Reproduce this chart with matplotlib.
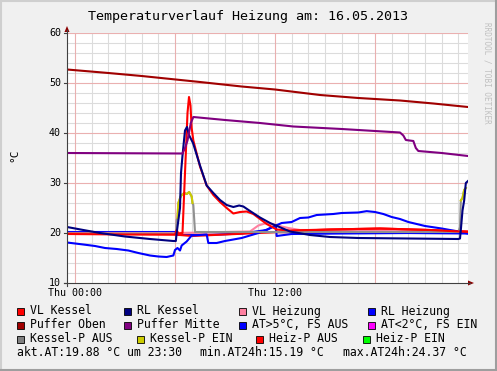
import matplotlib
matplotlib.use('Agg')
import matplotlib.pyplot as plt
from matplotlib.patches import Rectangle, Polygon
from matplotlib.lines import Line2D

# ---------------- data (hours after Thu 00:00) ----------------
title = "Temperaturverlauf Heizung am: 16.05.2013"
x_tick_hours = [0, 12]
x_tick_labels = ["Thu 00:00", "Thu 12:00"]
y_ticks = [10, 20, 30, 40, 50, 60]

puffer_oben_t = [-0.48, 2, 4, 7.5, 10, 12, 14.7, 17, 19.5, 21.5, 23.58]
puffer_oben_v = [52.7, 52.0, 51.4, 50.2, 49.3, 48.7, 47.6, 47.0, 46.5, 45.9, 45.2]

puffer_mitte_t = [-0.48, 6.45, 6.6, 6.75, 6.95, 7.1, 9, 11.1, 13.1, 16, 19.5, 19.7, 19.85, 20.3, 20.45, 20.6, 22, 23.58]
puffer_mitte_v = [36.0, 35.9, 37.0, 38.5, 42.0, 43.2, 42.6, 42.0, 41.3, 40.8, 40.1, 39.5, 38.6, 38.4, 37.0, 36.4, 36.0, 35.4]

vl_kessel_t = [-0.48, 3, 6.0, 6.1, 6.2, 6.45, 6.6, 6.75, 6.84, 6.93, 7.0, 7.1, 7.5, 7.9, 8.3, 8.7, 9.1, 9.5,
               9.9, 10.3, 10.7, 11.1, 11.5, 12.1, 12.9, 15.3, 18.3, 21.3, 23.1, 23.58]
vl_kessel_v = [19.8, 19.7, 19.7, 20.6, 19.9, 20.0, 32.0, 44.0, 47.2, 45.5, 41.0, 38.5, 33.3, 29.5, 27.6, 26.2,
               25.0, 23.9, 24.2, 24.3, 23.8, 22.8, 21.8, 20.7, 20.5, 20.7, 20.9, 20.6, 20.3, 20.2]

rl_kessel_t = [-0.48, 0.5, 1.5, 3.0, 4.5, 5.9, 6.05, 6.1, 6.3, 6.36, 6.45, 6.6, 6.72, 6.84, 7.08, 7.5, 7.9, 8.3,
               8.7, 9.1, 9.5, 9.85, 10.1, 10.5, 11.1, 11.7, 12.9, 14.1, 15.3, 17.0, 20.0, 23.0, 23.1, 23.16,
               23.25, 23.35, 23.45, 23.58]
rl_kessel_v = [21.2, 20.6, 20.0, 19.3, 18.8, 18.4, 18.4, 20.0, 25.0, 32.0, 35.5, 40.5, 41.2, 39.6, 38.0, 33.5,
               29.5, 28.0, 26.6, 25.6, 25.2, 25.5, 25.3, 24.4, 23.1, 22.0, 20.3, 19.6, 19.2, 19.0, 18.9, 18.8,
               18.9, 21.0, 24.5, 26.5, 30.0, 30.4]

vl_heizung_t = [-0.48, 6.0, 10.5, 11.0, 11.5, 12.0, 12.8, 13.5, 18.0, 23.58]
vl_heizung_v = [20.0, 20.0, 20.3, 21.5, 22.0, 21.6, 21.0, 20.6, 20.6, 20.3]

rl_heizung_t = [-0.48, 6.0, 6.2, 8.0, 10.0, 11.5, 12.05, 12.1, 13.0, 16.0, 20.0, 23.58]
rl_heizung_v = [20.2, 20.2, 19.6, 19.6, 19.9, 20.6, 21.6, 19.4, 19.8, 19.9, 20.0, 19.9]

heiz_t = [-0.48, 3, 6.0, 7.0, 9, 11, 13, 15.3, 18.3, 21.3, 23.58]
heiz_v = [19.9, 19.8, 19.7, 19.4, 19.7, 20.0, 20.4, 20.7, 20.9, 20.6, 20.3]

at_t = [-0.48, 0.5, 1.2, 1.8, 2.5, 3.2, 3.8, 4.5, 5.0, 5.5, 5.9, 6.0, 6.15, 6.3, 6.4, 6.7, 7.0, 7.5, 7.9, 8.0,
        8.5, 9.0, 10.0, 11.0, 11.6, 12.0, 12.4, 13.0, 13.5, 14.0, 14.5, 15.5, 16.0, 17.0, 17.5, 18.0, 18.5,
        19.0, 19.5, 20.0, 21.0, 22.0, 23.0, 23.58]
at_v = [18.1, 17.7, 17.4, 17.0, 16.8, 16.5, 16.0, 15.5, 15.3, 15.2, 15.5, 16.6, 17.0, 16.5, 17.5, 18.3, 19.5,
        19.6, 19.7, 18.0, 18.0, 18.4, 19.0, 20.0, 20.8, 21.4, 22.0, 22.2, 23.0, 23.1, 23.6, 23.8, 24.0, 24.1,
        24.37, 24.2, 23.8, 23.2, 22.8, 22.2, 21.4, 20.9, 20.3, 19.88]

kessel_p_t = [-0.48, 6.0, 6.06, 6.1, 6.15, 6.2, 6.35, 6.55, 6.7, 6.85, 7.0, 7.05, 7.1, 7.2, 23.0, 23.1, 23.15,
              23.25, 23.35, 23.45]
kessel_p_v = [19.9, 19.9, 20.0, 22.6, 23.0, 26.0, 27.4, 28.0, 27.8, 28.2, 27.3, 26.0, 25.6, 20.2, 20.2, 21.2,
              26.5, 27.0, 28.6, 29.0]
kessel_p_on = [0, 0, 0, 0, 1, 1, 1, 1, 1, 1, 1, 1, 0, 0, 0, 0, 1, 1, 1, 1]

legend_rows = [
    [("VL Kessel", "#ff0000"), ("RL Kessel", "#000080"), ("VL Heizung", "#ff80a0"), ("RL Heizung", "#0000ff")],
    [("Puffer Oben", "#a00000"), ("Puffer Mitte", "#800080"), ("AT>5°C, FS AUS", "#0000ff"), ("AT<2°C, FS EIN", "#ff00ff")],
    [("Kessel-P AUS", "#808080"), ("Kessel-P EIN", "#cccc00"), ("Heiz-P AUS", "#ff0000"), ("Heiz-P EIN", "#00ff00")],
]
legend_x = [
    [17, 124, 239, 368],
    [17, 124, 239, 368],
    [17, 137, 256, 363],
]
stats = ["akt.AT:19.88 °C um 23:30", "min.AT24h:15.19 °C", "max.AT24h:24.37 °C"]
stats_x = [17, 200, 343]

# ---------------- figure ----------------
W, H = 497, 371
MONO = "DejaVu Sans Mono"
fig = plt.figure(figsize=(W / 100, H / 100), dpi=100)
fig.patch.set_facecolor('#f0f0f0')


def fx(px):
    return px / W


def fy(py):
    return 1 - py / H


# border shading
fig.add_artist(Line2D([0, 1], [fy(1), fy(1)], color='#cfcfcf', lw=1.5))
fig.add_artist(Line2D([fx(1), fx(1)], [0, 1], color='#cfcfcf', lw=1.5))
fig.add_artist(Line2D([0, 1], [fy(370), fy(370)], color='#9e9e9e', lw=1.5))
fig.add_artist(Line2D([fx(496), fx(496)], [0, 1], color='#9e9e9e', lw=1.5))

ax = fig.add_axes([fx(67), fy(283), 401 / W, 250 / H])
ax.set_facecolor('white')
x0, x1 = -0.48, 23.58
ax.set_xlim(x0, x1)
ax.set_ylim(10, 60)
for s in ax.spines.values():
    s.set_visible(False)
ax.set_xticks([])
ax.set_yticks([])

# grid
for h in range(0, 24):
    if h % 6 == 0:
        continue
    ax.axvline(h, color='#dcdcdc', lw=0.8, zorder=0)
for v in range(12, 60, 2):
    if v % 10 == 0:
        continue
    ax.axhline(v, color='#dcdcdc', lw=0.8, zorder=0)
for h in [0, 6, 12, 18]:
    ax.axvline(h, color='#eab0b0', lw=0.8, zorder=0.5)
for v in [20, 30, 40, 50, 60]:
    ax.axhline(v, color='#eab0b0', lw=0.8, zorder=0.5)

lw = 1.5
ax.plot(rl_heizung_t, rl_heizung_v, color='#0000ff', lw=lw, zorder=2)
ax.plot(vl_heizung_t, vl_heizung_v, color='#ff80a0', lw=lw, zorder=2.1)
ax.plot(heiz_t, heiz_v, color='#ff0000', lw=lw, zorder=2.2)
ax.plot(at_t, at_v, color='#0000ff', lw=lw, zorder=2.3)
# Kessel pump line: grey when off, yellow when on
ax.plot(kessel_p_t, kessel_p_v, color='#909090', lw=lw, zorder=2.4)
seg_t, seg_v = [], []
for t, v, on in zip(kessel_p_t, kessel_p_v, kessel_p_on):
    if on:
        seg_t.append(t)
        seg_v.append(v)
    elif seg_t:
        ax.plot(seg_t, seg_v, color='#cccc00', lw=lw, zorder=2.5)
        seg_t, seg_v = [], []
if seg_t:
    ax.plot(seg_t, seg_v, color='#cccc00', lw=lw, zorder=2.5)
ax.plot(vl_kessel_t, vl_kessel_v, color='#ff0000', lw=lw, zorder=3)
ax.plot(rl_kessel_t, rl_kessel_v, color='#000080', lw=lw, zorder=3.1)
ax.plot(puffer_mitte_t, puffer_mitte_v, color='#800080', lw=lw, zorder=3.2)
ax.plot(puffer_oben_t, puffer_oben_v, color='#a00000', lw=lw, zorder=3.3)

# axes lines and arrows (figure pixel coords)
fig.add_artist(Line2D([fx(67), fx(67)], [fy(286), fy(30)], color='#404040', lw=0.8))
fig.add_artist(Line2D([fx(64), fx(470)], [fy(283), fy(283)], color='#404040', lw=0.8))
fig.add_artist(Polygon([[fx(64.5), fy(32)], [fx(69.5), fy(32)], [fx(67), fy(26)]], closed=True,
                       color='#8b0000', lw=0))
fig.add_artist(Polygon([[fx(468), fy(280.5)], [fx(468), fy(285.5)], [fx(474), fy(283)]], closed=True,
                       color='#8b0000', lw=0))
for v in y_ticks:
    py = 283 - (v - 10) * 5
    fig.add_artist(Line2D([fx(64), fx(67)], [fy(py), fy(py)], color='#404040', lw=0.8))
    fig.text(fx(61), fy(py), str(v), ha='right', va='center', fontsize=7.2, family=MONO, color='black')
for h, lab in zip(x_tick_hours, x_tick_labels):
    px = 75 + h * 100 / 6
    fig.text(fx(px), fy(293.5), lab, ha='center', va='center', fontsize=7.2, family=MONO, color='black')

fig.text(0.5, fy(16.5), title, ha='center', va='center', fontsize=9.6, family=MONO, color='black')
fig.text(fx(14), fy(155), "°C", ha='center', va='center', rotation=90, fontsize=8, family=MONO)
fig.text(fx(487), fy(22), "RRDTOOL / TOBI OETIKER", ha='center', va='top', rotation=270,
         fontsize=5.5, family=MONO, color='#c0c0c0')

row_y = [311, 325, 339]
for r, row in enumerate(legend_rows):
    for c, (lab, col) in enumerate(row):
        sx = legend_x[r][c]
        fig.add_artist(Rectangle((fx(sx), fy(row_y[r] + 3.5)), 7 / W, 7 / H, facecolor=col,
                                 edgecolor='black', lw=0.6))
        fig.text(fx(sx + 13), fy(row_y[r]), lab, ha='left', va='center', fontsize=8.3, family=MONO)
for s, sx in zip(stats, stats_x):
    fig.text(fx(sx), fy(353), s, ha='left', va='center', fontsize=8.3, family=MONO)

fig.savefig('out.png', dpi=100, facecolor=fig.get_facecolor())
